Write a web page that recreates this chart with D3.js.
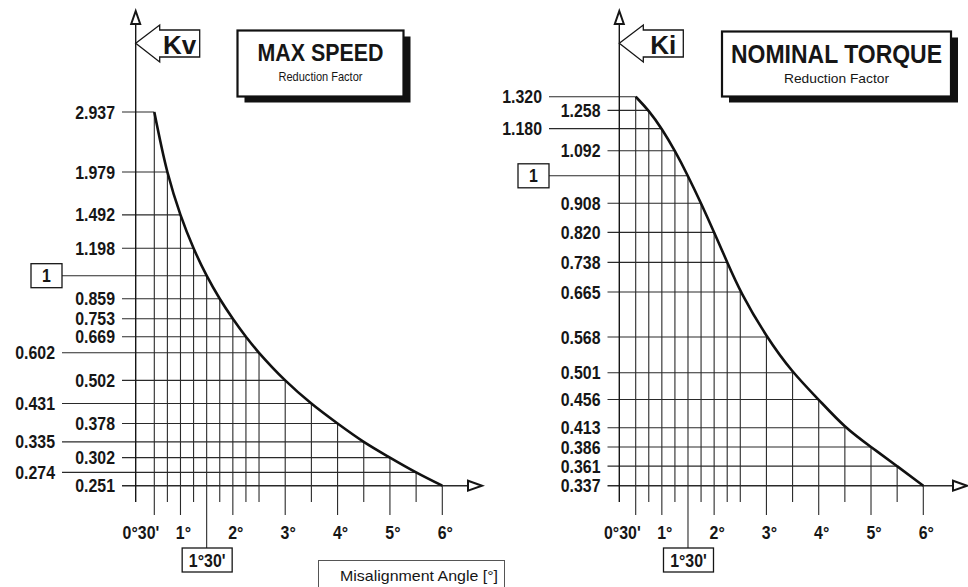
<!DOCTYPE html>
<html><head><meta charset="utf-8">
<script src="https://cdn.jsdelivr.net/npm/d3@7"></script>
<style>
html,body{margin:0;padding:0;background:#fff;}
svg{display:block;}
</style></head>
<body>
<svg id="c" width="968" height="587"></svg>
<script>
// ---------- DATA ----------
const angles = [0.5, 0.75, 1, 1.25, 1.5, 1.75, 2, 2.25, 2.5, 3, 3.5, 4, 4.5, 5, 5.5, 6];
const kvValues = [2.937, 1.979, 1.492, 1.198, 1, 0.859, 0.753, 0.669, 0.602, 0.502, 0.431, 0.378, 0.335, 0.302, 0.274, 0.251];
const kiValues = [1.320, 1.258, 1.180, 1.092, 1, 0.908, 0.820, 0.738, 0.665, 0.568, 0.501, 0.456, 0.413, 0.386, 0.361, 0.337];
const majorAngles = [0.5, 1, 2, 3, 4, 5, 6];
const majorAngleLabels = ["0°30'", "1°", "2°", "3°", "4°", "5°", "6°"];
const boxedAngle = 1.5;
const boxedAngleLabel = "1°30'";
const refValue = 1;
const kvOuterLabels = [0.602, 0.431, 0.335, 0.274];
const kiOuterLabels = [1.320, 1.180];
const kvTitle = ["MAX SPEED", "Reduction Factor"];
const kiTitle = ["NOMINAL TORQUE", "Reduction Factor"];
const xAxisTitle = "Misalignment Angle [°]";

// ---------- DRAW ----------
const svg = d3.select("#c");
const SANS = "'Liberation Sans',Arial,Helvetica,sans-serif";
const INK = "#161616";
const SQ = 0.86; // horizontal squeeze to imitate condensed type

function fmt(v){ return v === refValue ? "1" : v.toFixed(3); }

function condText(g, x, y, anchor, txt, size){
  return g.append("text")
    .attr("transform", `translate(${x},${y}) scale(${SQ},1)`)
    .attr("text-anchor", anchor)
    .attr("font-family", SANS).attr("font-weight", "bold").attr("font-size", size)
    .attr("fill", INK).text(txt);
}

function drawChart(cfg){
  const g = svg.append("g");
  const x = d3.scaleLinear().domain([0.5, 6]).range(cfg.xRange);
  const y = d3.scaleLog().domain([d3.min(cfg.values), d3.max(cfg.values)]).range(cfg.yRange);
  const pts = angles.map((a, i) => ({a, v: cfg.values[i]}));
  const vmin = d3.min(cfg.values);
  const baseY = y(vmin);

  // vertical grid lines (from below axis up to the curve)
  g.selectAll(".vg").data(pts).enter().append("line")
    .attr("x1", d => x(d.a)).attr("x2", d => x(d.a))
    .attr("y1", d => y(d.v))
    .attr("y2", d => d.a === boxedAngle ? 548 : (majorAngles.includes(d.a) ? 515 : 502))
    .attr("stroke", "#2a2a2a").attr("stroke-width", 1.1);

  // horizontal grid lines (from label column to curve)
  g.selectAll(".hg").data(pts).enter().append("line")
    .attr("x1", d => (d.v === refValue || cfg.outer.includes(d.v)) ? cfg.outerStart : cfg.innerStart)
    .attr("x2", d => d.v === vmin ? cfg.arrowX - 15 : x(d.a))
    .attr("y1", d => y(d.v)).attr("y2", d => y(d.v))
    .attr("stroke", "#2a2a2a").attr("stroke-width", d => d.v === vmin ? 1.6 : 1.1);

  // y axis line
  g.append("line").attr("x1", cfg.axisX).attr("x2", cfg.axisX)
    .attr("y1", 502).attr("y2", 23).attr("stroke", INK).attr("stroke-width", 1.4);
  // y arrow
  g.append("path")
    .attr("d", `M${cfg.axisX},11 L${cfg.axisX-4.5},24 L${cfg.axisX+4.5},24 Z`)
    .attr("fill", "#fff").attr("stroke", INK).attr("stroke-width", 2);
  // x arrow
  g.append("path")
    .attr("d", `M${cfg.arrowX},${baseY} L${cfg.arrowX-14},${baseY-5} L${cfg.arrowX-14},${baseY+5} Z`)
    .attr("fill", "#fff").attr("stroke", INK).attr("stroke-width", 2);

  // curve
  const line = d3.line().x(d => x(d.a)).y(d => y(d.v)).curve(cfg.curve);
  g.append("path").datum(pts).attr("d", line)
    .attr("fill", "none").attr("stroke", "#111").attr("stroke-width", 2.6)
    .attr("stroke-linejoin", "round");

  // y labels
  pts.filter(d => d.v !== refValue).forEach(d => {
    const lx = (cfg.outer.includes(d.v) ? cfg.outerStart : cfg.innerStart) - 7;
    condText(g, lx, y(d.v) + 6.6, "end", fmt(d.v), 18.5);
  });

  // boxed "1"
  const ry = y(refValue);
  g.append("rect").attr("x", cfg.outerStart - 31).attr("y", ry - 12)
    .attr("width", 31).attr("height", 24)
    .attr("fill", "#fff").attr("stroke", INK).attr("stroke-width", 1.3);
  condText(g, cfg.outerStart - 15.5, ry + 6.6, "middle", "1", 18.5);

  // x labels
  majorAngles.forEach((d, i) => {
    if (i === 0) condText(g, x(d) + 5, 539, "end", majorAngleLabels[i], 18.5);
    else condText(g, x(d) + 3, 539, "middle", majorAngleLabels[i], 18.5);
  });

  // boxed 1°30'
  const bx = x(boxedAngle);
  g.append("rect").attr("x", bx - 24.5).attr("y", 548).attr("width", 50).attr("height", 24)
    .attr("fill", "#fff").attr("stroke", INK).attr("stroke-width", 1.3);
  condText(g, bx + 0.5, 566.5, "middle", boxedAngleLabel, 18.5);

  // K arrow label
  const t = cfg.axisX, ty = 43.3;
  g.append("path")
    .attr("d", `M${t},${ty} L${t+24},${ty-18.3} L${t+24},${ty-13.3} L${t+64},${ty-13.3} L${t+64},${ty+13.7} L${t+24},${ty+13.7} L${t+24},${ty+18.7} Z`)
    .attr("fill", "#fff").attr("stroke", INK).attr("stroke-width", 1.3);
  g.append("text").attr("x", t + 44).attr("y", 54).attr("text-anchor", "middle")
    .attr("font-family", SANS).attr("font-weight", "bold").attr("font-size", 26)
    .attr("fill", INK).text(cfg.kLabel);

  // title box with shadow
  const tb = cfg.titleBox;
  g.append("rect").attr("x", tb.x + 7).attr("y", tb.y + 6).attr("width", tb.w).attr("height", tb.h)
    .attr("fill", "#111");
  g.append("rect").attr("x", tb.x).attr("y", tb.y).attr("width", tb.w).attr("height", tb.h)
    .attr("fill", "#fff").attr("stroke", "#111").attr("stroke-width", 2.2);
  g.append("text").attr("x", tb.x + tb.w / 2).attr("y", tb.y + cfg.titleBase).attr("text-anchor", "middle")
    .attr("font-family", SANS).attr("font-weight", "bold").attr("font-size", cfg.titleSize)
    .attr("textLength", cfg.titleLen).attr("lengthAdjust", "spacingAndGlyphs")
    .attr("fill", INK).text(cfg.title[0]);
  g.append("text").attr("x", tb.x + tb.w / 2).attr("y", tb.y + cfg.subBase).attr("text-anchor", "middle")
    .attr("font-family", SANS).attr("font-size", cfg.subSize)
    .attr("textLength", cfg.subLen).attr("lengthAdjust", "spacingAndGlyphs")
    .attr("fill", INK).text(cfg.title[1]);
}

drawChart({
  values: kvValues, outer: kvOuterLabels, kLabel: "Kv", title: kvTitle,
  xRange: [154.3, 442.3], yRange: [485.7, 112],
  axisX: 135.7, innerStart: 122, outerStart: 62, arrowX: 482,
  curve: d3.curveCatmullRom.alpha(0.5),
  titleBox: {x: 237.5, y: 30.5, w: 166, h: 66},
  titleSize: 24, titleLen: 126, titleBase: 30,
  subSize: 13.5, subLen: 84, subBase: 50
});
drawChart({
  values: kiValues, outer: kiOuterLabels, kLabel: "Ki", title: kiTitle,
  xRange: [635.7, 923.3], yRange: [485.7, 96.7],
  axisX: 619.3, innerStart: 607.5, outerStart: 549, arrowX: 967,
  curve: d3.curveBasis,
  titleBox: {x: 722, y: 31.5, w: 229, h: 65},
  titleSize: 25, titleLen: 211, titleBase: 31.5,
  subSize: 13.5, subLen: 105, subBase: 51
});

// x-axis title box
svg.append("rect").attr("x", 318.5).attr("y", 560.5).attr("width", 186).attr("height", 40)
  .attr("fill", "#fff").attr("stroke", "#555").attr("stroke-width", 1);
svg.append("text").attr("x", 419).attr("y", 581).attr("text-anchor", "middle")
  .attr("font-family", SANS).attr("font-size", 15)
  .attr("textLength", 158).attr("lengthAdjust", "spacingAndGlyphs")
  .attr("fill", INK).text(xAxisTitle);
</script>
</body></html>
